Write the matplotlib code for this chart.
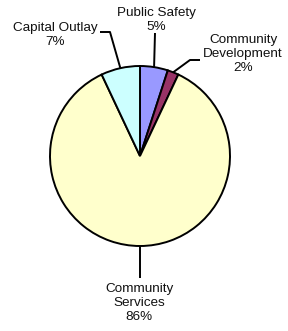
import numpy as np
import matplotlib
matplotlib.use("Agg")
import matplotlib.pyplot as plt

plt.rcParams["font.family"] = ["Liberation Sans", "DejaVu Sans"]

# ---------- data ----------
labels = ["Public Safety", "Community\nDevelopment", "Community\nServices", "Capital Outlay"]
values = [5, 2, 86, 7]
colors = ["#9999FF", "#993366", "#FFFFCC", "#CCFFFF"]

# ---------- layout (pixels, from top-left) ----------
W, H = 288, 331
CX, CY, R = 140, 156, 90

def px(x, y):
    return (x - CX) / R, (CY - y) / R

# label centre positions and leader-line elbows (pixels)
label_pos = [(156, 20), (243, 54), (139, 303), (55, 35)]
elbows = [
    [(155, 33)],
    [(190, 60), (200, 60)],
    [(140, 278)],
    [(110, 32), (100, 32)],
]

fig = plt.figure(figsize=(W / 100, H / 100), dpi=100)
ax = fig.add_axes([0, 0, 1, 1])
wedges, _ = ax.pie(values, colors=colors, startangle=90, counterclock=False,
                   radius=1.0, wedgeprops=dict(edgecolor="black", linewidth=1.4))
ax.set_xlim(-CX / R, (W - CX) / R)
ax.set_ylim(-(H - CY) / R, CY / R)
ax.set_aspect("equal")
ax.axis("off")

total = sum(values)
for w, lab, v, pos, elb in zip(wedges, labels, values, label_pos, elbows):
    mid = np.deg2rad((w.theta1 + w.theta2) / 2)
    xs = [np.cos(mid)] + [px(*p)[0] for p in elb]
    ys = [np.sin(mid)] + [px(*p)[1] for p in elb]
    ax.plot(xs, ys, color="black", lw=1.4, solid_capstyle="butt")
    tx, ty = px(*pos)
    ax.text(tx, ty, f"{lab}\n{round(v / total * 100)}%", ha="center", va="center",
            multialignment="center", fontsize=9.7, linespacing=1.17, color="#111111")

fig.savefig("out.png", dpi=100)
